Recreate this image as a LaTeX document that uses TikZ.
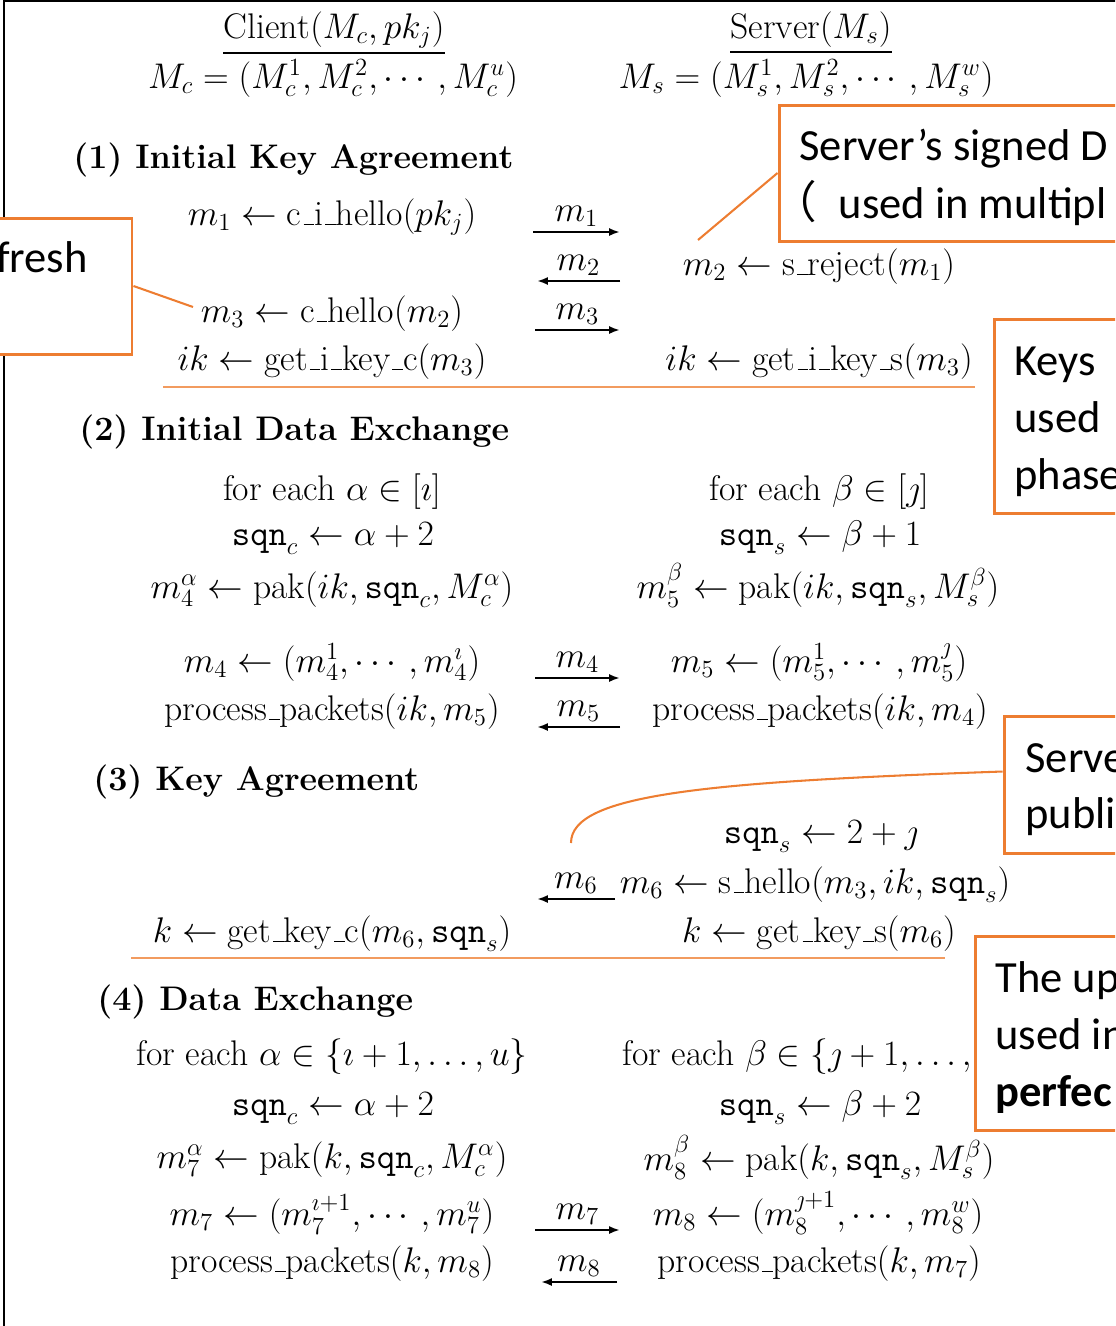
\documentclass[tikz,border=0pt]{standalone}
\usepackage{amsmath}
\usepackage{fontspec}
\newfontfamily\callfont{Carlito}
\newfontfamily\cjk{Noto Sans CJK SC}
\usetikzlibrary{arrows.meta,fit}
\definecolor{orng}{RGB}{237,125,49}
\definecolor{sepc}{RGB}{242,155,95}
\newcommand\mfont{\fontsize{17.28}{21}\selectfont}
\newcommand\tfont{\fontsize{16.54}{21}\selectfont\bfseries}
\newcommand\cfont{\callfont\fontsize{21.6}{26}\selectfont}
\newcommand\Sqn{\mathtt{sqn}}
\newcommand\us{\leavevmode\kern.06em\vbox{\hrule height .035em width .3em}}
\begin{document}
\begin{tikzpicture}[x=0.485pt,y=-0.485pt,
  mt/.style={font=\mfont, inner sep=0pt, anchor=base},
  ttl/.style={font=\tfont, inner sep=0pt, anchor=base west},
  msg/.style={line width=1pt, -{Latex[length=5.3pt,width=3.9pt]}},
  lbl/.style={font=\mfont, inner sep=2pt, above},
  call/.style={draw=orng, line width=1.45pt, fill=white, inner sep=0pt},
  ctext/.style={font=\cfont, inner sep=0pt, anchor=base west},
  lead/.style={draw=orng, line width=1pt},
  sepl/.style={draw=sepc, line width=0.8pt},
  frame/.style={draw=black, line width=1.45pt}]
\useasboundingbox (0,0) rectangle (1115,1326);
\clip (0,0) rectangle (1115,1326);
% frame
\coordinate (f0) at (4,1);
\coordinate (f1) at (1125,1);
\coordinate (f2) at (4,1335);
\draw[frame] (f1) -- (f0) -- (f2);
% header
\node[mt] (hc) at (334,38) {$\underline{\mathrm{Client}(M_c, pk_j)}$};
\node[mt] (mc) at (333,88) {$M_c = (M_c^1, M_c^2, \cdots, M_c^u)$};
\node[mt] (hs) at (811,38) {$\underline{\mathrm{Server}(M_s)}$};
\node[mt] (ms) at (806,88) {$M_s = (M_s^1, M_s^2, \cdots, M_s^w)$};
% (1)
\node[ttl] (t1) at (73,168) {(1) Initial Key Agreement};
\node[mt] (r1c) at (332,225) {$m_1 \leftarrow \text{c\us i\us hello}(pk_j)$};
\node[mt] (r2s) at (819,275) {$m_2 \leftarrow \text{s\us reject}(m_1)$};
\node[mt] (r3c) at (332,322) {$m_3 \leftarrow \text{c\us hello}(m_2)$};
\node[mt] (r4c) at (332,370) {$ik \leftarrow \text{get\us i\us key\us c}(m_3)$};
\node[mt] (r4s) at (819,370) {$ik \leftarrow \text{get\us i\us key\us s}(m_3)$};
\coordinate (a1s) at (533,232); \coordinate (a1e) at (620,232);
\coordinate (a2s) at (620,281); \coordinate (a2e) at (537,281);
\coordinate (a3s) at (535,330); \coordinate (a3e) at (620,330);
\draw[msg] (a1s) -- node[lbl] {$m_1$} (a1e);
\draw[msg] (a2s) -- node[lbl] {$m_2$} (a2e);
\draw[msg] (a3s) -- node[lbl] {$m_3$} (a3e);
\coordinate (s1a) at (163,387); \coordinate (s1b) at (975,387);
\draw[sepl] (s1a) -- (s1b);
% (2)
\node[ttl] (t2) at (79,440) {(2) Initial Data Exchange};
\node[mt] (d1c) at (332,500) {for each $\alpha \in [\imath]$};
\node[mt] (d1s) at (819,500) {for each $\beta \in [\jmath]$};
\node[mt] (d2c) at (333,545) {$\Sqn_c \leftarrow \alpha + 2$};
\node[mt] (d2s) at (820,545) {$\Sqn_s \leftarrow \beta + 1$};
\node[mt] (d3c) at (332,598) {$m_4^\alpha \leftarrow \text{pak}(ik, \Sqn_c, M_c^\alpha)$};
\node[mt] (d3s) at (818,598) {$m_5^\beta \leftarrow \text{pak}(ik, \Sqn_s, M_s^\beta)$};
\node[mt] (d4c) at (332,672) {$m_4 \leftarrow (m_4^1, \cdots, m_4^\imath)$};
\node[mt] (d4s) at (819,672) {$m_5 \leftarrow (m_5^1, \cdots, m_5^\jmath)$};
\node[mt] (d5c) at (332,720) {process\us packets$(ik, m_5)$};
\node[mt] (d5s) at (820,720) {process\us packets$(ik, m_4)$};
\coordinate (a4s) at (535,678); \coordinate (a4e) at (620,678);
\coordinate (a5s) at (620,727); \coordinate (a5e) at (537,727);
\draw[msg] (a4s) -- node[lbl] {$m_4$} (a4e);
\draw[msg] (a5s) -- node[lbl] {$m_5$} (a5e);
% (3)
\node[ttl] (t3) at (93,790) {(3) Key Agreement};
\node[mt] (k1s) at (821,843) {$\Sqn_s \leftarrow 2 + \jmath$};
\node[mt] (k2s) at (815,893) {$m_6 \leftarrow \text{s\us hello}(m_3, ik, \Sqn_s)$};
\node[mt] (k3c) at (332,942) {$k \leftarrow \text{get\us key\us c}(m_6, \Sqn_s)$};
\node[mt] (k3s) at (819,942) {$k \leftarrow \text{get\us key\us s}(m_6)$};
\coordinate (a6s) at (615,899); \coordinate (a6e) at (537,899);
\draw[msg] (a6s) -- node[lbl] {$m_6$} (a6e);
\coordinate (s2a) at (131,958); \coordinate (s2b) at (945,958);
\draw[sepl] (s2a) -- (s2b);
% (4)
\node[ttl] (t4) at (97,1010) {(4) Data Exchange};
\node[mt] (e1c) at (332,1065) {for each $\alpha \in \{\imath+1, \ldots, u\}$};
\node[mt, anchor=base west] (e1s) at (622,1065) {for each $\beta \in \{\jmath+1, \ldots, w\}$};
\node[mt] (e2c) at (333,1115) {$\Sqn_c \leftarrow \alpha + 2$};
\node[mt] (e2s) at (820,1115) {$\Sqn_s \leftarrow \beta + 2$};
\node[mt] (e3c) at (332,1168) {$m_7^\alpha \leftarrow \text{pak}(k, \Sqn_c, M_c^\alpha)$};
\node[mt] (e3s) at (819,1170) {$m_8^\beta \leftarrow \text{pak}(k, \Sqn_s, M_s^\beta)$};
\node[mt] (e4c) at (332,1225) {$m_7 \leftarrow (m_7^{\imath+1}, \cdots, m_7^u)$};
\node[mt] (e4s) at (818,1225) {$m_8 \leftarrow (m_8^{\jmath+1}, \cdots, m_8^w)$};
\node[mt] (e5c) at (332,1272) {process\us packets$(k, m_8)$};
\node[mt] (e5s) at (819,1272) {process\us packets$(k, m_7)$};
\coordinate (a7s) at (535,1230); \coordinate (a7e) at (620,1230);
\coordinate (a8s) at (617,1282); \coordinate (a8e) at (541,1282);
\draw[msg] (a7s) -- node[lbl] {$m_7$} (a7e);
\draw[msg] (a8s) -- node[lbl] {$m_8$} (a8e);
% callouts
\coordinate (bA1) at (-10,218); \coordinate (bA2) at (132,354);
\coordinate (bB1) at (779,105); \coordinate (bB2) at (1130,241);
\coordinate (bC1) at (994,319); \coordinate (bC2) at (1130,513);
\coordinate (bD1) at (1004,716); \coordinate (bD2) at (1130,853);
\coordinate (bE1) at (975,936); \coordinate (bE2) at (1130,1130);
\node[call, fit=(bA1)(bA2)] (boxA) {};
\node[ctext, anchor=base east] (txA) at (88,272) {fresh};
\node[call, fit=(bB1)(bB2)] (boxB) {};
\node[ctext] (txB1) at (799,160) {Server’s signed D};
\node[ctext] (txB2) at (799,218) {\kern-13pt{\cjk （}\kern10.5pt used in multipl};
\node[call, fit=(bC1)(bC2)] (boxC) {};
\node[ctext] (txC1) at (1014,375) {Keys};
\node[ctext] (txC2) at (1014,432) {used};
\node[ctext] (txC3) at (1014,489) {phase};
\node[call, fit=(bD1)(bD2)] (boxD) {};
\node[ctext] (txD1) at (1025,772) {Serve};
\node[ctext] (txD2) at (1025,828) {publi};
\node[call, fit=(bE1)(bE2)] (boxE) {};
\node[ctext] (txE1) at (995,992) {The up};
\node[ctext] (txE2) at (995,1049) {used in};
\node[ctext] (txE3) at (995,1106) {\bfseries perfec};
% leaders
\coordinate (tA) at (193,307);
\coordinate (tB) at (698,240);
\coordinate (tD) at (571,843);
\draw[lead] (boxA.east) -- (tA);
\draw[lead] (boxB.west) -- (tB);
\draw[lead] ([yshift=6.3pt]boxD.west) .. controls (700,782) and (571,795) .. (tD);
\end{tikzpicture}
\end{document}
